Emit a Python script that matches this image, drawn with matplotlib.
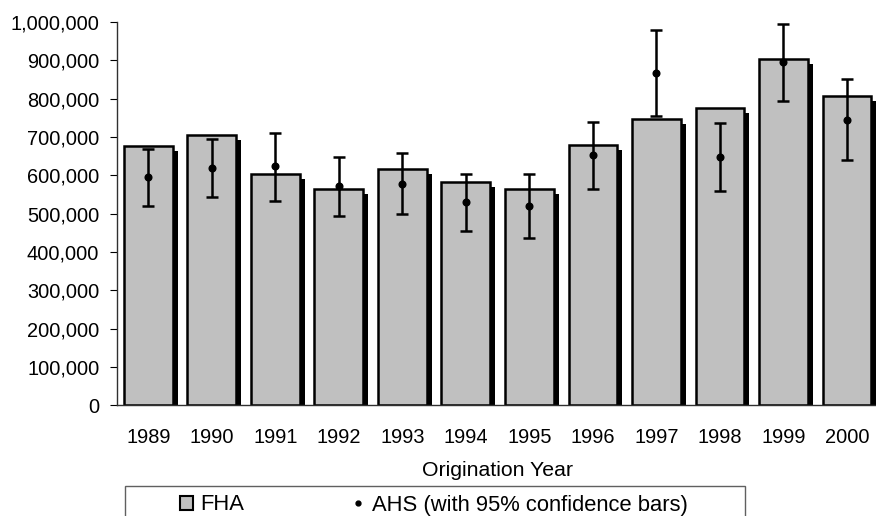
import matplotlib
matplotlib.use("Agg")
import matplotlib.pyplot as plt
import matplotlib.patheffects as pe
from matplotlib.patches import Patch, Rectangle
from matplotlib.lines import Line2D
from matplotlib.ticker import FuncFormatter

years = ["1989", "1990", "1991", "1992", "1993", "1994",
         "1995", "1996", "1997", "1998", "1999", "2000"]
fha = [677000, 704000, 604000, 564000, 617000, 583000,
       564000, 679000, 747000, 776000, 903000, 806000]
ahs = [596000, 619000, 623000, 573000, 578000, 530000,
       520000, 652000, 868000, 649000, 895000, 745000]
ahs_low = [519000, 543000, 534000, 494000, 498000, 456000,
           437000, 565000, 756000, 559000, 793000, 639000]
ahs_high = [669000, 696000, 710000, 649000, 657000, 603000,
            603000, 738000, 978000, 737000, 996000, 851000]

plt.rcParams['font.family'] = ['Liberation Sans', 'DejaVu Sans']
fs = 14.4
fs_leg = 15.8

fig = plt.figure(figsize=(8.76, 5.16), dpi=100)
ax = fig.add_axes([0.1332, 0.2145, 0.8699, 0.7429])

x = list(range(len(years)))
bars = ax.bar(x, fha, width=0.77, color='#C0C0C0', edgecolor='black', linewidth=1.8, zorder=2)
for b in bars:
    b.set_path_effects([pe.SimplePatchShadow(offset=(3.6, -3.6), shadow_rgbFace='black', alpha=1.0),
                        pe.Normal()])

err_lo = [a - l for a, l in zip(ahs, ahs_low)]
err_hi = [h - a for a, h in zip(ahs, ahs_high)]
ax.errorbar(x, ahs, yerr=[err_lo, err_hi], fmt='o', color='black', markersize=4.8,
            elinewidth=1.8, capsize=4.3, capthick=1.8, zorder=3)

ax.set_xlim(-0.5, len(years) - 0.5)
ax.set_ylim(0, 1000000)
ax.set_yticks(range(0, 1000001, 100000))
ax.yaxis.set_major_formatter(FuncFormatter(lambda v, p: f"{v:,.0f}"))
ax.set_xticks(x)
ax.set_xticklabels(years)

ax.tick_params(axis='x', length=0, pad=16.5, labelsize=fs)
ax.tick_params(axis='y', length=4.8, width=0.8, pad=7.7, labelsize=fs, direction='out')
for s in ['top', 'right']:
    ax.spines[s].set_visible(False)
for s in ['left', 'bottom']:
    ax.spines[s].set_color('#303030')
    ax.spines[s].set_linewidth(1.0)

ax.set_xlabel("Origination Year", fontsize=15.3)
ax.xaxis.set_label_coords(0.5, -0.1706)
ax.xaxis.label.set_va('center')

# legend box, runs off the bottom edge
fig.patches.append(Rectangle((125 / 876, -0.02), 620 / 876, (516 - 486) / 516 + 0.02,
                             transform=fig.transFigure, facecolor='white',
                             edgecolor='#606060', linewidth=1.0, zorder=1))
handles = [Patch(facecolor='#C0C0C0', edgecolor='black', linewidth=1.5, label='FHA'),
           Line2D([0], [0], marker='o', color='black', linestyle='none', markersize=3.5,
                  label='AHS (with 95% confidence bars)')]
fig.legend(handles=handles, loc='center left', bbox_to_anchor=(180 / 876, 11 / 516),
           ncol=2, frameon=False, fontsize=fs_leg, handlelength=0.6, handleheight=0.6,
           handletextpad=0.32, columnspacing=4.9, borderpad=0, borderaxespad=0)

fig.savefig("out.png", dpi=100)
